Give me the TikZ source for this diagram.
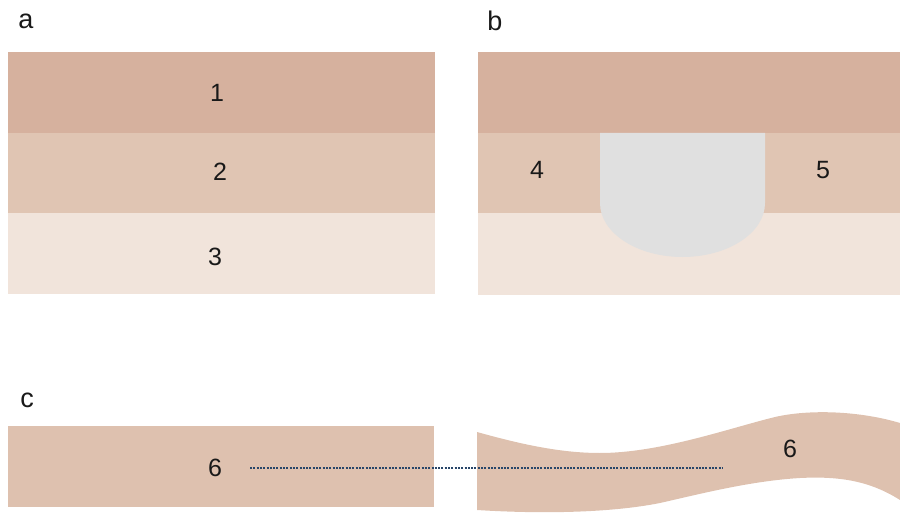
\documentclass[tikz,border=0pt]{standalone}
\usepackage{fontspec}
\setmainfont{Liberation Sans}
\definecolor{layA}{RGB}{214,177,158}
\definecolor{layB}{RGB}{224,197,179}
\definecolor{layC}{RGB}{241,228,219}
\definecolor{implant}{RGB}{224,224,224}
\definecolor{band}{RGB}{222,193,175}
\definecolor{dotline}{RGB}{40,70,105}
\begin{document}
\begin{tikzpicture}[x=1pt,y=-1pt,
  num/.style={font=\fontsize{25}{25}\selectfont, text=black!90, inner sep=0pt},
  panel/.style={font=\fontsize{27}{27}\selectfont, text=black!90, inner sep=0pt}]
\useasboundingbox (0,0) rectangle (900,516);
% panel a
\fill[layA] (8,52) rectangle (435,133);
\fill[layB] (8,133) rectangle (435,213);
\fill[layC] (8,213) rectangle (435,294);
\node[panel] (la) at (26,21) {a};
\node[num] (n1) at (217,93) {1};
\node[num] (n2) at (220,172) {2};
\node[num] (n3) at (215,257) {3};
% panel b
\fill[layA] (478,52) rectangle (900,133);
\fill[layB] (478,133) rectangle (900,213);
\fill[layC] (478,213) rectangle (900,295);
\fill[implant] (600,133) -- (600,203) arc[start angle=180, end angle=0, x radius=82.5, y radius=54] -- (765,133) -- cycle;
\node[panel] (lb) at (495,21) {b};
\node[num] (n4) at (537,170) {4};
\node[num] (n5) at (823,170) {5};
% panel c
\node[panel] (lc) at (27,400) {c};
\fill[band] (8,426) rectangle (434,507);
\fill[band] (477,432) .. controls (520,444) and (560,453) .. (600,453)
  .. controls (660,453) and (730,428) .. (775,417)
  .. controls (810,409) and (860,411) .. (900,423)
  -- (900,500)
  .. controls (870,481) and (840,476) .. (800,478)
  .. controls (750,481) and (700,494) .. (660,503)
  .. controls (610,513) and (540,514) .. (477,510) -- cycle;
\node[num] (n6a) at (215,468) {6};
\node[num] (n6b) at (790,449) {6};
\coordinate (d1) at (250,468);
\coordinate (d2) at (723,468);
\draw[dotline, line width=2pt, dash pattern=on 2pt off 1.3pt] (d1) -- (d2);
\end{tikzpicture}
\end{document}
